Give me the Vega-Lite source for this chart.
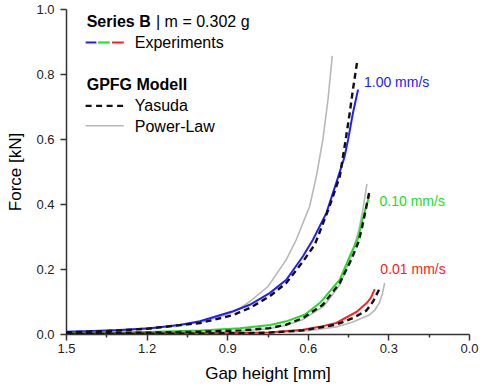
{
  "$schema": "https://vega.github.io/schema/vega-lite/v6.json",
  "autosize": "none",
  "width": 403,
  "height": 325,
  "padding": {"left": 66, "top": 9, "right": 11, "bottom": 53},
  "background": "white",
  "config": {
    "font": "Liberation Sans",
    "view": {"stroke": null},
    "axis": {"grid": false, "domainColor": "#333333", "tickColor": "#333333", "domainWidth": 1.5, "tickWidth": 1.5, "labelColor": "#222222", "titleColor": "#000000", "labelFontSize": 13, "titleFontSize": 17, "titleFontWeight": "normal", "labelFont": "Liberation Sans", "titleFont": "Liberation Sans"}
  },
  "datasets": {
    "curves": [
      {"model": "Experiment", "speed": "1.00", "g": 0.413, "F": 0.752},
      {"model": "Experiment", "speed": "1.00", "g": 0.432, "F": 0.68},
      {"model": "Experiment", "speed": "1.00", "g": 0.45, "F": 0.598},
      {"model": "Experiment", "speed": "1.00", "g": 0.463, "F": 0.546},
      {"model": "Experiment", "speed": "1.00", "g": 0.494, "F": 0.465},
      {"model": "Experiment", "speed": "1.00", "g": 0.531, "F": 0.372},
      {"model": "Experiment", "speed": "1.00", "g": 0.581, "F": 0.29},
      {"model": "Experiment", "speed": "1.00", "g": 0.618, "F": 0.239},
      {"model": "Experiment", "speed": "1.00", "g": 0.68, "F": 0.167},
      {"model": "Experiment", "speed": "1.00", "g": 0.742, "F": 0.126},
      {"model": "Experiment", "speed": "1.00", "g": 0.816, "F": 0.09},
      {"model": "Experiment", "speed": "1.00", "g": 0.878, "F": 0.07},
      {"model": "Experiment", "speed": "1.00", "g": 1.002, "F": 0.039},
      {"model": "Experiment", "speed": "1.00", "g": 1.077, "F": 0.028},
      {"model": "Experiment", "speed": "1.00", "g": 1.188, "F": 0.018},
      {"model": "Experiment", "speed": "1.00", "g": 1.3, "F": 0.012},
      {"model": "Experiment", "speed": "1.00", "g": 1.4, "F": 0.009},
      {"model": "Experiment", "speed": "1.00", "g": 1.5, "F": 0.007},

      {"model": "Yasuda", "speed": "1.00", "g": 0.417, "F": 0.834},
      {"model": "Yasuda", "speed": "1.00", "g": 0.432, "F": 0.752},
      {"model": "Yasuda", "speed": "1.00", "g": 0.444, "F": 0.68},
      {"model": "Yasuda", "speed": "1.00", "g": 0.459, "F": 0.598},
      {"model": "Yasuda", "speed": "1.00", "g": 0.481, "F": 0.485},
      {"model": "Yasuda", "speed": "1.00", "g": 0.519, "F": 0.393},
      {"model": "Yasuda", "speed": "1.00", "g": 0.562, "F": 0.3},
      {"model": "Yasuda", "speed": "1.00", "g": 0.574, "F": 0.275},
      {"model": "Yasuda", "speed": "1.00", "g": 0.618, "F": 0.223},
      {"model": "Yasuda", "speed": "1.00", "g": 0.68, "F": 0.157},
      {"model": "Yasuda", "speed": "1.00", "g": 0.742, "F": 0.116},
      {"model": "Yasuda", "speed": "1.00", "g": 0.816, "F": 0.08},
      {"model": "Yasuda", "speed": "1.00", "g": 0.853, "F": 0.067},
      {"model": "Yasuda", "speed": "1.00", "g": 0.878, "F": 0.058},
      {"model": "Yasuda", "speed": "1.00", "g": 1.0, "F": 0.034},
      {"model": "Yasuda", "speed": "1.00", "g": 1.2, "F": 0.016},
      {"model": "Yasuda", "speed": "1.00", "g": 1.35, "F": 0.009},
      {"model": "Yasuda", "speed": "1.00", "g": 1.5, "F": 0.005},

      {"model": "Power-Law", "speed": "1.00", "g": 0.509, "F": 0.856},
      {"model": "Power-Law", "speed": "1.00", "g": 0.525, "F": 0.72},
      {"model": "Power-Law", "speed": "1.00", "g": 0.544, "F": 0.598},
      {"model": "Power-Law", "speed": "1.00", "g": 0.567, "F": 0.49},
      {"model": "Power-Law", "speed": "1.00", "g": 0.593, "F": 0.393},
      {"model": "Power-Law", "speed": "1.00", "g": 0.643, "F": 0.29},
      {"model": "Power-Law", "speed": "1.00", "g": 0.68, "F": 0.229},
      {"model": "Power-Law", "speed": "1.00", "g": 0.748, "F": 0.146},
      {"model": "Power-Law", "speed": "1.00", "g": 0.816, "F": 0.1},
      {"model": "Power-Law", "speed": "1.00", "g": 0.85, "F": 0.08},
      {"model": "Power-Law", "speed": "1.00", "g": 0.9, "F": 0.06},
      {"model": "Power-Law", "speed": "1.00", "g": 1.0, "F": 0.036},
      {"model": "Power-Law", "speed": "1.00", "g": 1.2, "F": 0.015},
      {"model": "Power-Law", "speed": "1.00", "g": 1.35, "F": 0.009},
      {"model": "Power-Law", "speed": "1.00", "g": 1.5, "F": 0.005},

      {"model": "Experiment", "speed": "0.10", "g": 0.37, "F": 0.428},
      {"model": "Experiment", "speed": "0.10", "g": 0.38, "F": 0.4},
      {"model": "Experiment", "speed": "0.10", "g": 0.395, "F": 0.357},
      {"model": "Experiment", "speed": "0.10", "g": 0.413, "F": 0.295},
      {"model": "Experiment", "speed": "0.10", "g": 0.444, "F": 0.239},
      {"model": "Experiment", "speed": "0.10", "g": 0.481, "F": 0.167},
      {"model": "Experiment", "speed": "0.10", "g": 0.494, "F": 0.155},
      {"model": "Experiment", "speed": "0.10", "g": 0.544, "F": 0.106},
      {"model": "Experiment", "speed": "0.10", "g": 0.556, "F": 0.095},
      {"model": "Experiment", "speed": "0.10", "g": 0.61, "F": 0.06},
      {"model": "Experiment", "speed": "0.10", "g": 0.68, "F": 0.039},
      {"model": "Experiment", "speed": "0.10", "g": 0.74, "F": 0.028},
      {"model": "Experiment", "speed": "0.10", "g": 0.853, "F": 0.018},
      {"model": "Experiment", "speed": "0.10", "g": 1.0, "F": 0.011},
      {"model": "Experiment", "speed": "0.10", "g": 1.2, "F": 0.006},
      {"model": "Experiment", "speed": "0.10", "g": 1.5, "F": 0.003},

      {"model": "Yasuda", "speed": "0.10", "g": 0.372, "F": 0.434},
      {"model": "Yasuda", "speed": "0.10", "g": 0.385, "F": 0.38},
      {"model": "Yasuda", "speed": "0.10", "g": 0.4, "F": 0.32},
      {"model": "Yasuda", "speed": "0.10", "g": 0.413, "F": 0.28},
      {"model": "Yasuda", "speed": "0.10", "g": 0.438, "F": 0.229},
      {"model": "Yasuda", "speed": "0.10", "g": 0.481, "F": 0.157},
      {"model": "Yasuda", "speed": "0.10", "g": 0.544, "F": 0.09},
      {"model": "Yasuda", "speed": "0.10", "g": 0.618, "F": 0.049},
      {"model": "Yasuda", "speed": "0.10", "g": 0.68, "F": 0.029},
      {"model": "Yasuda", "speed": "0.10", "g": 0.742, "F": 0.018},
      {"model": "Yasuda", "speed": "0.10", "g": 0.85, "F": 0.011},
      {"model": "Yasuda", "speed": "0.10", "g": 1.0, "F": 0.007},
      {"model": "Yasuda", "speed": "0.10", "g": 1.2, "F": 0.004},
      {"model": "Yasuda", "speed": "0.10", "g": 1.5, "F": 0.002},

      {"model": "Power-Law", "speed": "0.10", "g": 0.38, "F": 0.462},
      {"model": "Power-Law", "speed": "0.10", "g": 0.395, "F": 0.382},
      {"model": "Power-Law", "speed": "0.10", "g": 0.41, "F": 0.32},
      {"model": "Power-Law", "speed": "0.10", "g": 0.44, "F": 0.235},
      {"model": "Power-Law", "speed": "0.10", "g": 0.48, "F": 0.152},
      {"model": "Power-Law", "speed": "0.10", "g": 0.54, "F": 0.086},
      {"model": "Power-Law", "speed": "0.10", "g": 0.62, "F": 0.044},
      {"model": "Power-Law", "speed": "0.10", "g": 0.68, "F": 0.027},
      {"model": "Power-Law", "speed": "0.10", "g": 0.74, "F": 0.017},
      {"model": "Power-Law", "speed": "0.10", "g": 0.85, "F": 0.009},
      {"model": "Power-Law", "speed": "0.10", "g": 1.0, "F": 0.005},
      {"model": "Power-Law", "speed": "0.10", "g": 1.5, "F": 0.001},

      {"model": "Experiment", "speed": "0.01", "g": 0.351, "F": 0.138},
      {"model": "Experiment", "speed": "0.01", "g": 0.365, "F": 0.112},
      {"model": "Experiment", "speed": "0.01", "g": 0.38, "F": 0.096},
      {"model": "Experiment", "speed": "0.01", "g": 0.419, "F": 0.068},
      {"model": "Experiment", "speed": "0.01", "g": 0.494, "F": 0.034},
      {"model": "Experiment", "speed": "0.01", "g": 0.556, "F": 0.022},
      {"model": "Experiment", "speed": "0.01", "g": 0.618, "F": 0.013},
      {"model": "Experiment", "speed": "0.01", "g": 0.742, "F": 0.005},
      {"model": "Experiment", "speed": "0.01", "g": 0.9, "F": 0.002},
      {"model": "Experiment", "speed": "0.01", "g": 1.5, "F": 0.001},

      {"model": "Yasuda", "speed": "0.01", "g": 0.335, "F": 0.136},
      {"model": "Yasuda", "speed": "0.01", "g": 0.357, "F": 0.1},
      {"model": "Yasuda", "speed": "0.01", "g": 0.37, "F": 0.085},
      {"model": "Yasuda", "speed": "0.01", "g": 0.382, "F": 0.072},
      {"model": "Yasuda", "speed": "0.01", "g": 0.432, "F": 0.049},
      {"model": "Yasuda", "speed": "0.01", "g": 0.494, "F": 0.029},
      {"model": "Yasuda", "speed": "0.01", "g": 0.618, "F": 0.011},
      {"model": "Yasuda", "speed": "0.01", "g": 0.75, "F": 0.004},
      {"model": "Yasuda", "speed": "0.01", "g": 1.0, "F": 0.001},
      {"model": "Yasuda", "speed": "0.01", "g": 1.5, "F": 0.0},

      {"model": "Power-Law", "speed": "0.01", "g": 0.314, "F": 0.157},
      {"model": "Power-Law", "speed": "0.01", "g": 0.322, "F": 0.125},
      {"model": "Power-Law", "speed": "0.01", "g": 0.333, "F": 0.097},
      {"model": "Power-Law", "speed": "0.01", "g": 0.35, "F": 0.074},
      {"model": "Power-Law", "speed": "0.01", "g": 0.37, "F": 0.059},
      {"model": "Power-Law", "speed": "0.01", "g": 0.432, "F": 0.037},
      {"model": "Power-Law", "speed": "0.01", "g": 0.494, "F": 0.022},
      {"model": "Power-Law", "speed": "0.01", "g": 0.6, "F": 0.01},
      {"model": "Power-Law", "speed": "0.01", "g": 0.75, "F": 0.004},
      {"model": "Power-Law", "speed": "0.01", "g": 1.0, "F": 0.001},
      {"model": "Power-Law", "speed": "0.01", "g": 1.5, "F": 0.0}
    ]
  },
  "layer": [
    {
      "data": {"name": "curves"},
      "transform": [{"filter": "datum.model == 'Power-Law'"}],
      "mark": {"type": "line", "stroke": "#b8b8b8", "strokeWidth": 1.6, "clip": true},
      "encoding": {
        "x": {"field": "g", "type": "quantitative", "title": "Gap height [mm]",
          "scale": {"domain": [0, 1.5], "reverse": true, "nice": false, "zero": false},
          "axis": {"values": [0, 0.15, 0.3, 0.45, 0.6, 0.75, 0.9, 1.05, 1.2, 1.35, 1.5],
            "labelExpr": "round(datum.value/0.15) % 2 == 0 ? format(datum.value, '.1f') : ''",
            "tickSize": {"condition": {"test": "round(datum.value/0.15) % 2 == 1", "value": 3}, "value": 6},
            "labelPadding": 2, "titlePadding": 10, "labelFlush": false, "labelOverlap": false}},
        "y": {"field": "F", "type": "quantitative", "title": "Force [kN]",
          "scale": {"domain": [0, 1.0], "nice": false},
          "axis": {"values": [0, 0.1, 0.2, 0.3, 0.4, 0.5, 0.6, 0.7, 0.8, 0.9, 1.0],
            "labelExpr": "round(datum.value*10) % 2 == 0 ? format(datum.value, '.1f') : ''",
            "tickSize": {"condition": {"test": "round(datum.value*10) % 2 == 1", "value": 3}, "value": 6},
            "labelPadding": 6, "titlePadding": 11, "labelFlush": false, "labelOverlap": false}},
        "detail": {"field": "speed"},
        "order": {"field": "g"}
      }
    },
    {
      "data": {"name": "curves"},
      "transform": [{"filter": "datum.model == 'Experiment'"}],
      "mark": {"type": "line", "strokeWidth": 2, "clip": true},
      "encoding": {
        "x": {"field": "g", "type": "quantitative", "title": "Gap height [mm]"},
        "y": {"field": "F", "type": "quantitative", "title": "Force [kN]"},
        "color": {"field": "speed", "type": "nominal", "legend": null,
          "scale": {"domain": ["1.00", "0.10", "0.01"], "range": ["#2020ff", "#22dd22", "#ff2020"]}},
        "order": {"field": "g"}
      }
    },
    {
      "data": {"name": "curves"},
      "transform": [{"filter": "datum.model == 'Yasuda'"}],
      "mark": {"type": "line", "stroke": "#111111", "strokeWidth": 2.4, "strokeDash": [6, 4], "clip": true},
      "encoding": {
        "x": {"field": "g", "type": "quantitative", "title": "Gap height [mm]"},
        "y": {"field": "F", "type": "quantitative", "title": "Force [kN]"},
        "detail": {"field": "speed"},
        "order": {"field": "g"}
      }
    },
    {
      "data": {"values": [{}]},
      "mark": {"type": "rule", "stroke": "#2020ff", "strokeWidth": 2},
      "encoding": {"x": {"datum": 1.427, "type": "quantitative", "title": "Gap height [mm]"}, "x2": {"datum": 1.387}, "y": {"datum": 0.897, "type": "quantitative", "title": "Force [kN]"}}
    },
    {
      "data": {"values": [{}]},
      "mark": {"type": "rule", "stroke": "#22dd22", "strokeWidth": 2},
      "encoding": {"x": {"datum": 1.381, "type": "quantitative", "title": "Gap height [mm]"}, "x2": {"datum": 1.337}, "y": {"datum": 0.897, "type": "quantitative", "title": "Force [kN]"}}
    },
    {
      "data": {"values": [{}]},
      "mark": {"type": "rule", "stroke": "#ff2020", "strokeWidth": 2},
      "encoding": {"x": {"datum": 1.329, "type": "quantitative", "title": "Gap height [mm]"}, "x2": {"datum": 1.285}, "y": {"datum": 0.897, "type": "quantitative", "title": "Force [kN]"}}
    },
    {
      "data": {"values": [{}]},
      "mark": {"type": "rule", "stroke": "#111111", "strokeWidth": 2.2, "strokeDash": [6, 4.5]},
      "encoding": {"x": {"datum": 1.427, "type": "quantitative", "title": "Gap height [mm]"}, "x2": {"datum": 1.285}, "y": {"datum": 0.702, "type": "quantitative", "title": "Force [kN]"}}
    },
    {
      "data": {"values": [{}]},
      "mark": {"type": "rule", "stroke": "#b8b8b8", "strokeWidth": 1.6},
      "encoding": {"x": {"datum": 1.427, "type": "quantitative", "title": "Gap height [mm]"}, "x2": {"datum": 1.285}, "y": {"datum": 0.641, "type": "quantitative", "title": "Force [kN]"}}
    },
    {
      "data": {"values": [
        {"gx": 1.423, "fy": 0.945, "label": "Series B"},
        {"gx": 1.423, "fy": 0.75, "label": "GPFG Modell"}
      ]},
      "mark": {"type": "text", "align": "left", "baseline": "alphabetic", "fontSize": 16, "fontWeight": "bold", "color": "#000000"},
      "encoding": {
        "x": {"field": "gx", "type": "quantitative", "title": "Gap height [mm]"},
        "y": {"field": "fy", "type": "quantitative", "title": "Force [kN]"},
        "text": {"field": "label"}
      }
    },
    {
      "data": {"values": [
        {"gx": 1.165, "fy": 0.945, "label": "| m = 0.302 g"},
        {"gx": 1.244, "fy": 0.88, "label": "Experiments"},
        {"gx": 1.244, "fy": 0.687, "label": "Yasuda"},
        {"gx": 1.244, "fy": 0.623, "label": "Power-Law"}
      ]},
      "mark": {"type": "text", "align": "left", "baseline": "alphabetic", "fontSize": 16, "fontWeight": "normal", "color": "#000000"},
      "encoding": {
        "x": {"field": "gx", "type": "quantitative", "title": "Gap height [mm]"},
        "y": {"field": "fy", "type": "quantitative", "title": "Force [kN]"},
        "text": {"field": "label"}
      }
    },
    {
      "data": {"values": [
        {"gx": 0.391, "fy": 0.759, "label": "1.00 mm/s", "speed": "1.00"},
        {"gx": 0.333, "fy": 0.395, "label": "0.10 mm/s", "speed": "0.10"},
        {"gx": 0.33, "fy": 0.186, "label": "0.01 mm/s", "speed": "0.01"}
      ]},
      "mark": {"type": "text", "align": "left", "baseline": "alphabetic", "fontSize": 14},
      "encoding": {
        "x": {"field": "gx", "type": "quantitative", "title": "Gap height [mm]"},
        "y": {"field": "fy", "type": "quantitative", "title": "Force [kN]"},
        "text": {"field": "label"},
        "color": {"field": "speed", "type": "nominal", "legend": null,
          "scale": {"domain": ["1.00", "0.10", "0.01"], "range": ["#2020ff", "#22dd22", "#ff2020"]}}
      }
    }
  ]
}
